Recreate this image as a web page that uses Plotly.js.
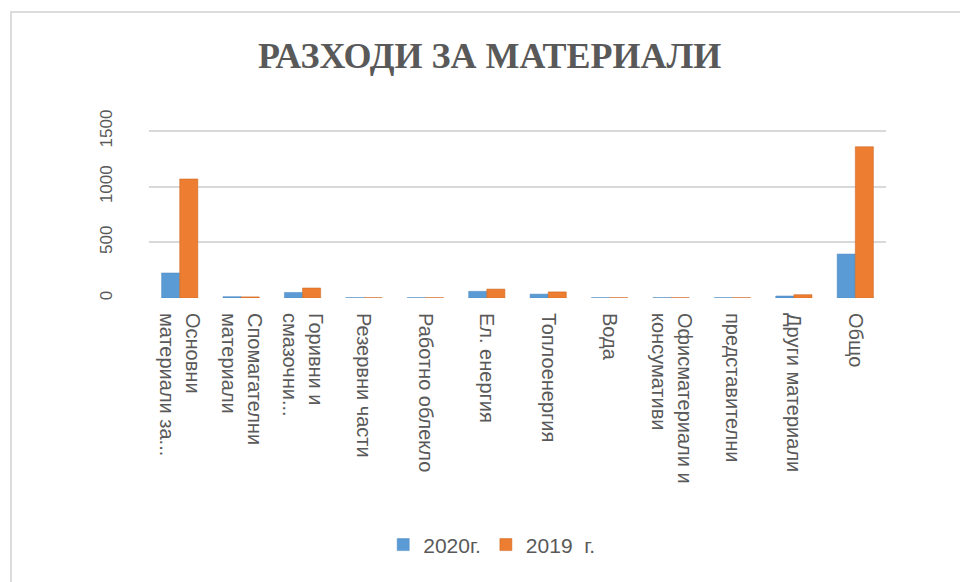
<!DOCTYPE html>
<html>
<head>
<meta charset="utf-8">
<script src="https://cdn.plot.ly/plotly-3.0.1.min.js"></script>
<style>
  html, body { margin: 0; padding: 0; background: #ffffff; }
  #wrap { position: relative; width: 960px; height: 582px; overflow: hidden; }
  #chart { position: absolute; left: 0; top: 0; width: 960px; height: 582px; }
  #frame { position: absolute; left: 10px; top: 11px; width: 1000px; height: 600px;
           border-left: 2px solid #dcdcdc; border-top: 2px solid #dcdcdc; pointer-events: none; }
</style>
</head>
<body>
<div id="wrap">
  <div id="chart"></div>
  <div id="frame"></div>
</div>
<script>
const categories = [
  "Основни<br>материали за...",
  "Спомагателни<br>материали",
  "Горивни и<br>смазочни...",
  "Резервни части",
  "Работно облекло",
  "Ел. енергия",
  "Топлоенергия",
  "Вода",
  "Офисматериали и<br>консумативи",
  "представителни",
  "Други материали",
  "Общо"
];
const values2020 = [225, 12, 50, 3, 3, 60, 35, 3, 3, 3, 18, 395];
const values2019 = [1070, 10, 90, 3, 3, 80, 55, 3, 3, 3, 30, 1360];
const seriesNames = ["2020г.", "2019  г."];
const yTicks = [0, 500, 1000, 1500];

const traces = [
  { type: 'bar', x: categories, y: values2020, name: seriesNames[0],
    marker: { color: '#5B9BD5', line: { color: '#4A86BE', width: 0.5 } } },
  { type: 'bar', x: categories, y: values2019, name: seriesNames[1],
    marker: { color: '#ED7D31', line: { color: '#C8651F', width: 0.5 } } }
];

const layout = {
  width: 960, height: 582,
  paper_bgcolor: '#ffffff', plot_bgcolor: '#ffffff',
  margin: { l: 149, r: 74, t: 130, b: 284 },
  barmode: 'group', bargap: 0.41, bargroupgap: 0,
  title: { text: 'РАЗХОДИ ЗА МАТЕРИАЛИ', x: 0.51, xanchor: 'center', y: 0.905, yanchor: 'middle',
           font: { family: 'Liberation Serif, Times New Roman, serif', size: 36, color: '#595959', weight: 'bold' } },
  xaxis: {
    type: 'category', tickangle: 90, showgrid: false, zeroline: false, showline: false,
    ticks: '', ticklabelstandoff: 14,
    tickfont: { family: 'Liberation Sans, Arial, sans-serif', size: 20, color: '#595959' }
  },
  yaxis: {
    range: [0, 1510], tickvals: yTicks, ticktext: yTicks.map(String), tickangle: -90,
    showgrid: true, gridcolor: '#d9d9d9', gridwidth: 2, zeroline: false, showline: false,
    ticks: '', ticklabelstandoff: 33,
    tickfont: { family: 'Liberation Sans, Arial, sans-serif', size: 17, color: '#595959' }
  },
  legend: { orientation: 'h', x: 0.465, xanchor: 'center', y: -1.47, yanchor: 'middle',
            font: { family: 'Liberation Sans, Arial, sans-serif', size: 21, color: '#595959' },
            itemwidth: 30, traceorder: 'normal' },
  showlegend: true
};

Plotly.newPlot('chart', traces, layout, { displayModeBar: false, staticPlot: true });
</script>
</body>
</html>
